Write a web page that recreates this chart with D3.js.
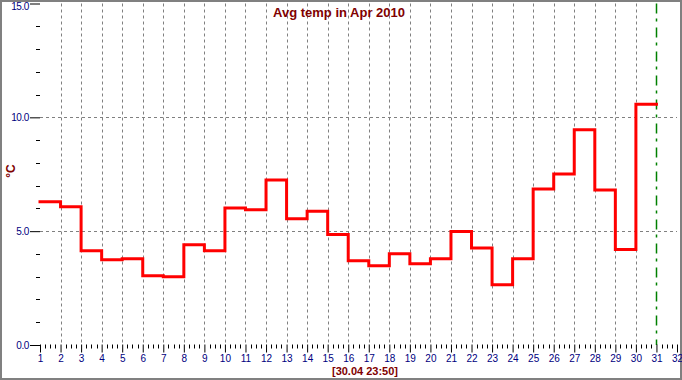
<!DOCTYPE html>
<html>
<head>
<meta charset="utf-8">
<script src="https://cdn.jsdelivr.net/npm/d3@7"></script>
<style>
  html, body { margin: 0; padding: 0; background: #fff; }
  svg { display: block; }
</style>
</head>
<body>
<svg id="chart" width="682" height="380"></svg>
<script>
// ---- data ----
const days = d3.range(1, 31); // 1..30
const avgTemp = [6.29, 6.07, 4.14, 3.75, 3.79, 3.04, 3.00, 4.40, 4.14, 6.02,
                 5.94, 7.25, 5.55, 5.88, 4.85, 3.70, 3.48, 4.01, 3.57, 3.79,
                 4.98, 4.26, 2.65, 3.79, 6.85, 7.51, 9.46, 6.81, 4.19, 10.58];
const xTickValues = d3.range(1, 33);
const yMajorTicks = [0, 5, 10, 15];
const yMinorTicks = d3.range(0, 16);
const titleText = "Avg temp in Apr 2010";
const unitText = "°C";
const timestampText = "[30.04 23:50]";
const markerDay = 31;

const svg = d3.select("#chart");
const x = d3.scaleLinear().domain([1, 32]).range([40, 677]);
const y = d3.scaleLinear().domain([0, 15]).range([345, 3.5]);

// frame
svg.append("rect").attr("x", 1).attr("y", 1).attr("width", 680).attr("height", 378)
  .attr("fill", "#fff").attr("stroke", "#808080").attr("stroke-width", 2);

// vertical gridlines
svg.append("g").selectAll("line").data(d3.range(2, 31)).join("line")
  .attr("x1", d => Math.round(x(d)) + 0.5).attr("x2", d => Math.round(x(d)) + 0.5)
  .attr("y1", y(15)).attr("y2", y(0))
  .attr("stroke", "#808080").attr("stroke-width", 1).attr("stroke-dasharray", "3,3");

// horizontal gridlines
svg.append("g").selectAll("line").data([5, 10]).join("line")
  .attr("x1", x(1)).attr("x2", x(32))
  .attr("y1", d => Math.round(y(d)) + 0.5).attr("y2", d => Math.round(y(d)) + 0.5)
  .attr("stroke", "#808080").attr("stroke-width", 1).attr("stroke-dasharray", "3,3");

// marker line (green dash-dot)
svg.append("line")
  .attr("x1", Math.round(x(markerDay)) + 0.5).attr("x2", Math.round(x(markerDay)) + 0.5)
  .attr("y1", y(15)).attr("y2", y(0))
  .attr("stroke", "#008000").attr("stroke-width", 1.5).attr("stroke-dasharray", "10,5,3,6");

// x axis: major ticks
const axisY = Math.round(y(0)) - 0.5;
const xAxis = d3.axisBottom(x).tickValues(xTickValues).tickSize(8).tickPadding(2)
  .tickFormat(d3.format("d"));
const gx = svg.append("g").attr("transform", `translate(0,${axisY})`).call(xAxis);
gx.select(".domain").remove();
gx.selectAll(".tick line").attr("stroke", "#000");
gx.selectAll(".tick text").attr("fill", "#000080")
  .style("font-family", "Arial, 'Liberation Sans', sans-serif").style("font-size", "10px");

// x axis: minor ticks (quarter days)
const minorX = [];
for (let d = 1; d < 32; d++) for (let q = 1; q < 4; q++) minorX.push(d + q / 4);
svg.append("g").selectAll("line").data(minorX).join("line")
  .attr("x1", d => Math.round(x(d)) + 0.5).attr("x2", d => Math.round(x(d)) + 0.5)
  .attr("y1", axisY).attr("y2", axisY + 4)
  .attr("stroke", "#000").attr("stroke-width", 1);

// y axis
const yAxis = d3.axisLeft(y).tickValues(yMajorTicks).tickSize(10).tickPadding(1)
  .tickFormat(d3.format(".1f"));
const gy = svg.append("g").attr("transform", `translate(${x(1)},0)`).call(yAxis);
gy.select(".domain").remove();
gy.selectAll(".tick line").attr("stroke", "#000");
gy.selectAll(".tick text").attr("fill", "#000080")
  .style("font-family", "Arial, 'Liberation Sans', sans-serif").style("font-size", "10px")
  .attr("letter-spacing", "-0.4");
gy.selectAll(".tick").filter(d => d === 15).select("text").attr("dy", "0.55em");

svg.append("g").selectAll("line").data(yMinorTicks.filter(v => !yMajorTicks.includes(v))).join("line")
  .attr("x1", x(1) - 4).attr("x2", x(1))
  .attr("y1", d => Math.round(y(d)) + 0.5).attr("y2", d => Math.round(y(d)) + 0.5)
  .attr("stroke", "#000").attr("stroke-width", 1);

// step line
const pts = days.map((d, i) => [d, avgTemp[i]]);
pts.push([31, avgTemp[avgTemp.length - 1]]);
const line = d3.line().x(d => x(d[0])).y(d => y(d[1])).curve(d3.curveStepAfter);
svg.append("path").datum(pts).attr("d", line)
  .attr("fill", "none").attr("stroke", "#ff0000").attr("stroke-width", 3)
  .attr("stroke-linejoin", "miter").attr("stroke-linecap", "square");

// title
svg.append("text").attr("x", 339).attr("y", 17).attr("text-anchor", "middle")
  .attr("fill", "#800000").style("font-family", "Arial, 'Liberation Sans', sans-serif")
  .style("font-size", "13px").style("font-weight", "bold").text(titleText);

// unit label
svg.append("text").attr("transform", "translate(15,171) rotate(-90)").attr("text-anchor", "middle")
  .attr("fill", "#800000").style("font-family", "Arial, 'Liberation Sans', sans-serif")
  .style("font-size", "12px").style("font-weight", "bold").text(unitText);

// timestamp
svg.append("text").attr("x", 365).attr("y", 375).attr("text-anchor", "middle")
  .attr("fill", "#800000").style("font-family", "Arial, 'Liberation Sans', sans-serif")
  .style("font-size", "11px").style("font-weight", "bold").text(timestampText);
</script>
</body>
</html>
